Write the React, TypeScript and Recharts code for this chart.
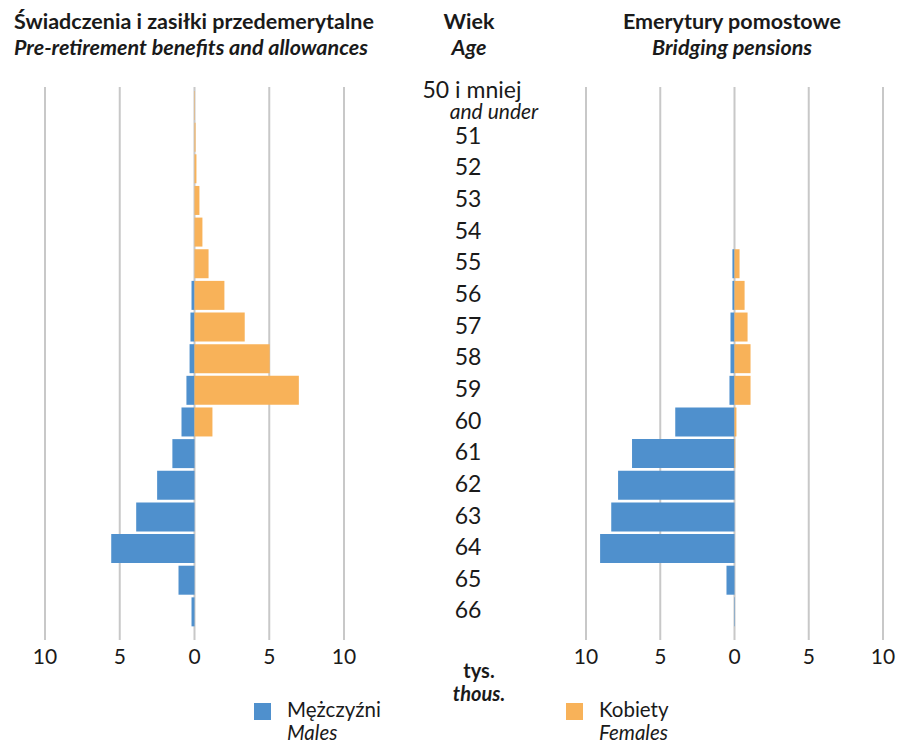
import React from "react";
import { Bar, BarChart, CartesianGrid, XAxis, YAxis } from "recharts";

// Age groups (rows, top to bottom)
const AGES = ["50 i mniej", "51", "52", "53", "54", "55", "56", "57", "58", "59", "60", "61", "62", "63", "64", "65", "66"];
const AGE_FIRST_EN = "and under";

// Pre-retirement benefits and allowances, thous.
const PRE_MALES = [0, 0, 0, 0, 0, 0, 0.2, 0.27, 0.33, 0.54, 0.87, 1.48, 2.5, 3.9, 5.57, 1.07, 0.2];
const PRE_FEMALES = [0.03, 0.07, 0.13, 0.33, 0.53, 0.94, 2.0, 3.36, 5.03, 6.98, 1.2, 0, 0, 0, 0, 0, 0];

// Bridging pensions, thous.
const BRIDGE_MALES = [0, 0, 0, 0, 0, 0.14, 0.14, 0.27, 0.27, 0.34, 3.99, 6.9, 7.84, 8.3, 9.05, 0.54, 0.03];
const BRIDGE_FEMALES = [0, 0, 0, 0, 0, 0.34, 0.68, 0.88, 1.08, 1.08, 0.13, 0.05, 0, 0, 0, 0, 0];

const X_TICKS = [-10, -5, 0, 5, 10];

const BLUE = "#4f90cd";
const ORANGE = "#f8b259";
const GRID = "#c8c8c8";
const TEXT = "#1a1a1a";
const FONT = "Lato, 'Open Sans', sans-serif";

const buildRows = (males: number[], females: number[]) =>
  AGES.map((age, i) => ({ age, males: -(males[i] ?? 0), females: females[i] ?? 0 }));

const preData = buildRows(PRE_MALES, PRE_FEMALES);
const bridgeData = buildRows(BRIDGE_MALES, BRIDGE_FEMALES);

const tickStyle = { fill: TEXT, fontSize: 21, fontFamily: FONT };

// age label drawn in the gap between the two charts
const AgeTick = (props: any) => {
  const { x, y, payload, index } = props;
  if (index === 0) {
    return (
      <g>
        <text x={x + 128} y={y - 8} textAnchor="middle" fill={TEXT} fontSize={23} fontFamily={FONT}>
          {payload.value}
        </text>
        <text x={x + 150} y={y + 13} textAnchor="middle" fill={TEXT} fontSize={21} fontStyle="italic" fontFamily={FONT}>
          {AGE_FIRST_EN}
        </text>
      </g>
    );
  }
  return (
    <text x={x + 124} y={y - 2} dy="0.36em" textAnchor="middle" fill={TEXT} fontSize={23} fontFamily={FONT}>
      {payload.value}
    </text>
  );
};

const Title = ({ pl, en, left, width, align }: { pl: string; en: string; left: number; width: number; align: "left" | "center" }) => (
  <div style={{ position: "absolute", left, top: 8, width, textAlign: align, color: TEXT, whiteSpace: "nowrap" }}>
    <div style={{ fontWeight: 700, fontSize: 21.5, lineHeight: "26px" }}>{pl}</div>
    <div style={{ fontWeight: 700, fontStyle: "italic", fontSize: 21.5, lineHeight: "26px" }}>{en}</div>
  </div>
);

const LegendItem = ({ color, pl, en, left }: { color: string; pl: string; en: string; left: number }) => (
  <div style={{ position: "absolute", left, top: 700, color: TEXT }}>
    <div style={{ position: "absolute", left: 0, top: 3, width: 17, height: 17, background: color }} />
    <div style={{ position: "absolute", left: 33, top: -2, whiteSpace: "nowrap", fontSize: 20.5, lineHeight: "23px" }}>
      {pl}
      <br />
      <i>{en}</i>
    </div>
  </div>
);

export default function App() {
  return (
    <div style={{ position: "absolute", left: 0, top: 0, width: 898, height: 744, background: "#fff", fontFamily: FONT, overflow: "hidden" }}>
      <Title pl="Świadczenia i zasiłki przedemerytalne" en="Pre-retirement benefits and allowances" left={14} width={420} align="left" />
      <Title pl="Wiek" en="Age" left={419} width={100} align="center" />
      <Title pl="Emerytury pomostowe" en="Bridging pensions" left={622} width={220} align="center" />

      <div style={{ position: "absolute", left: 0, top: 0 }}>
        <BarChart
          width={587}
          height={680}
          data={preData}
          layout="vertical"
          stackOffset="sign"
          margin={{ top: 87, right: 0, bottom: 0, left: 45 }}
        >
          <CartesianGrid horizontal={false} stroke={GRID} strokeWidth={2} />
          <XAxis
            type="number"
            domain={[-10, 10]}
            ticks={X_TICKS}
            tickFormatter={(v: number) => String(Math.abs(v))}
            axisLine={false}
            tickLine={false}
            tickSize={0}
            tickMargin={9}
            height={40}
            tick={tickStyle}
          />
          <YAxis
            type="category"
            dataKey="age"
            orientation="right"
            width={243}
            axisLine={false}
            tickLine={false}
            tickSize={0}
            tickMargin={0}
            padding={{ top: 3, bottom: 12 }}
            interval={0}
            tick={<AgeTick />}
          />
          <Bar dataKey="males" stackId="s" fill={BLUE} barSize={29} isAnimationActive={false} />
          <Bar dataKey="females" stackId="s" fill={ORANGE} barSize={29} isAnimationActive={false} />
        </BarChart>
      </div>

      <div style={{ position: "absolute", left: 556, top: 0 }}>
        <BarChart
          width={342}
          height={680}
          data={bridgeData}
          layout="vertical"
          stackOffset="sign"
          margin={{ top: 87, right: 15, bottom: 0, left: 30 }}
        >
          <CartesianGrid horizontal={false} stroke={GRID} strokeWidth={2} />
          <XAxis
            type="number"
            domain={[-10, 10]}
            ticks={X_TICKS}
            tickFormatter={(v: number) => String(Math.abs(v))}
            axisLine={false}
            tickLine={false}
            tickSize={0}
            tickMargin={9}
            height={40}
            tick={tickStyle}
          />
          <YAxis type="category" dataKey="age" hide width={0} padding={{ top: 3, bottom: 12 }} />
          <Bar dataKey="males" stackId="s" fill={BLUE} barSize={29} isAnimationActive={false} />
          <Bar dataKey="females" stackId="s" fill={ORANGE} barSize={29} isAnimationActive={false} />
        </BarChart>
      </div>

      <div style={{ position: "absolute", left: 419, top: 659, width: 120, textAlign: "center", color: TEXT, fontWeight: 700, fontSize: 20, lineHeight: "23px" }}>
        tys.
        <br />
        <i>thous.</i>
      </div>

      <LegendItem color={BLUE} pl="Mężczyźni" en="Males" left={254} />
      <LegendItem color={ORANGE} pl="Kobiety" en="Females" left={566} />
    </div>
  );
}
